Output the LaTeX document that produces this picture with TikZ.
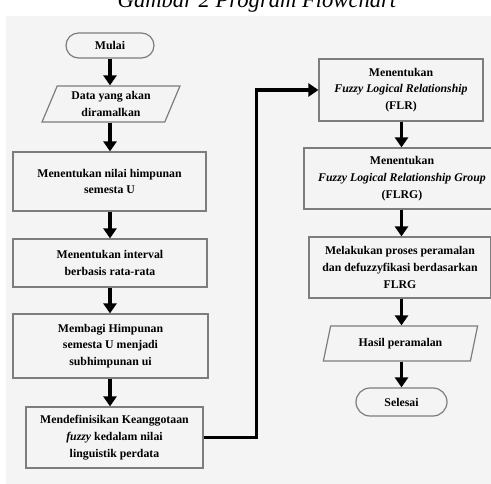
\documentclass[tikz,border=0pt]{standalone}
\usepackage{fontspec}
\setmainfont{Liberation Serif}
\usetikzlibrary{shapes.geometric,arrows.meta}
\definecolor{bggray}{RGB}{244,244,244}
\definecolor{edgegray}{RGB}{125,125,125}
\begin{document}
\begin{tikzpicture}[x=1pt,y=-1pt,
	boxtext/.style={align=center, inner sep=0pt, font=\fontsize{11.8}{16.8}\selectfont\bfseries},
	procbox/.style={boxtext, draw=edgegray, line width=1.2pt, fill=bggray, rectangle},
	termbox/.style={procbox, rounded corners=12.5pt},
	iobox/.style={boxtext, draw=edgegray, line width=1.2pt, fill=bggray, trapezium, trapezium stretches=true},
	flowarrow/.style={line width=3.5pt, -{Triangle[length=10pt,width=13pt]}}]
	\useasboundingbox (0,0) rectangle (491,484);
	\clip (0,0) rectangle (491,484);
	\fill[white] (0,0) rectangle (491,484);
	\fill[bggray] (6,16) rectangle (491,484);
	\node[font=\fontsize{22.6}{27}\selectfont\itshape, anchor=base] (caption) at (257,8) {Gambar 2 Program Flowchart};
	
	\node[termbox, minimum width=88pt, minimum height=25pt] (mulai) at (110,45.5) {Mulai};
	\node[iobox, trapezium left angle=66, trapezium right angle=114, minimum width=138pt, minimum height=36pt] (data) at (111,104) {Data yang akan\\diramalkan};
	\node[procbox, minimum width=193pt, minimum height=59pt] (semesta) at (109.5,181.5) {Menentukan nilai himpunan\\semesta U};
	\node[procbox, minimum width=194pt, minimum height=48pt] (interval) at (110,263) {Menentukan interval\\berbasis rata-rata};
	\node[procbox, minimum width=195pt, minimum height=64pt] (membagi) at (110.5,346) {Membagi Himpunan\\semesta U menjadi\\subhimpunan ui};
	\node[procbox, minimum width=177pt, minimum height=61pt] (mendef) at (114.5,437.5) {Mendefinisikan Keanggotaan\\\emph{fuzzy} kedalam nilai\\linguistik perdata};
	
	\node[procbox, minimum width=164pt, minimum height=62pt] (flr) at (401,90) {Menentukan\\\emph{Fuzzy Logical Relationship}\\(FLR)};
	\node[procbox, minimum width=196pt, minimum height=61pt] (flrg) at (402,178.5) {Menentukan\\\emph{Fuzzy Logical Relationship Group}\\(FLRG)};
	\node[procbox, minimum width=182pt, minimum height=61pt] (proses) at (400,267.5) {Melakukan proses peramalan\\dan defuzzyfikasi berdasarkan\\FLRG};
	\node[iobox, trapezium left angle=68, trapezium right angle=112, minimum width=155pt, minimum height=35pt] (hasil) at (400.5,343.5) {Hasil peramalan};
	\node[termbox, rounded corners=14pt, minimum width=91pt, minimum height=28pt] (selesai) at (401.5,402) {Selesai};
	
	\draw[flowarrow] (mulai.south) -- (mulai.south |- data.north);
	\draw[flowarrow] (mulai.south |- data.south) -- (mulai.south |- semesta.north);
	\draw[flowarrow] (mulai.south |- semesta.south) -- (mulai.south |- interval.north);
	\draw[flowarrow] (mulai.south |- interval.south) -- (mulai.south |- membagi.north);
	\draw[flowarrow] (mulai.south |- membagi.south) -- (mulai.south |- mendef.north);
	\draw[flowarrow] (mendef.east) -- ++(53,0) |- (flr.west);
	\draw[flowarrow] (selesai.north |- flr.south) -- (selesai.north |- flrg.north);
	\draw[flowarrow] (selesai.north |- flrg.south) -- (selesai.north |- proses.north);
	\draw[flowarrow] (selesai.north |- proses.south) -- (selesai.north |- hasil.north);
	\draw[flowarrow] (selesai.north |- hasil.south) -- (selesai.north);
\end{tikzpicture}
\end{document}
